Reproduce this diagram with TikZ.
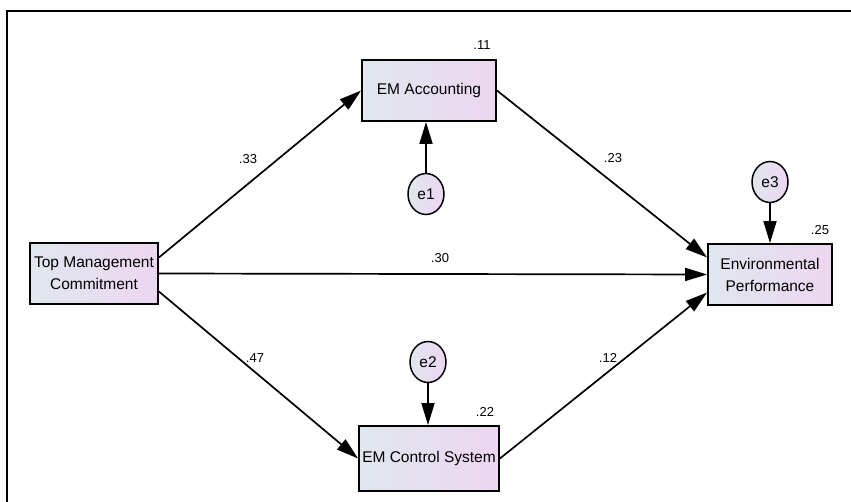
\documentclass[tikz,border=0pt]{standalone}
\usepackage{fontspec}
\setmainfont{Liberation Sans}
\usetikzlibrary{arrows.meta,shapes.geometric}
\definecolor{boxl}{RGB}{224,231,238}
\definecolor{boxr}{RGB}{237,214,241}

\begin{document}
\begin{tikzpicture}[x=1pt,y=-1pt]
    \tikzstyle{every node}+=[inner sep=0pt, font=\fontsize{15.5}{22}\selectfont]
    \tikzstyle{obs}=[draw, line width=1.8pt, left color=boxl, right color=boxr, align=center, minimum height=61pt]
    \tikzstyle{err}=[draw, ellipse, line width=1.5pt, left color=boxl, right color=boxr, minimum width=36pt, minimum height=41pt]
    \tikzstyle{path}=[line width=1.7pt, -{Triangle[length=22pt,width=13pt]}]
    \tikzstyle{coef}=[font=\fontsize{13}{15}\selectfont]
    \useasboundingbox (0,0) rectangle (851,502);
    \draw [line width=2pt] (7,502) -- (7,11) -- (851,11);
    % variables
    \node [obs, minimum width=128pt] (tmc) at (94,273.5) {Top Management\\Commitment};
    \node [obs, minimum width=134pt] (ema) at (429,90.5) {EM Accounting};
    \node [obs, minimum width=140pt, minimum height=65pt] (emc) at (429,458.5) {EM Control System};
    \node [obs, minimum width=124pt] (ep) at (770,274.5) {Environmental\\Performance};
    \node [err] (e1) at (426,194) {e1};
    \node [err] (e2) at (428,362) {e2};
    \node [err] (e3) at (770,182) {e3};
    % paths
    \draw [path] ([yshift=16pt]tmc.east) -- (ema.west);
    \draw [path] ([yshift=-18pt]tmc.east) -- (emc.west);
    \draw [path] (tmc.east) -- (ep.west);
    \draw [path] (ema.east) -- ([yshift=17pt]ep.west);
    \draw [path] (emc.east) -- ([yshift=-18pt]ep.west);
    \draw [path] (e1.north) -- (e1.north |- ema.south);
    \draw [path] (e2.south) -- (e2.south |- emc.north);
    \draw [path] (e3.south) -- (e3.south |- ep.north);
    % estimates
    \node [coef] (r1) at (482,45) {.11};
    \node [coef] (r2) at (485,412) {.22};
    \node [coef] (r3) at (820,230) {.25};
    \node [coef] (b1) at (248,159) {.33};
    \node [coef] (b2) at (613,158) {.23};
    \node [coef] (b3) at (440,258) {.30};
    \node [coef] (b4) at (255,358) {.47};
    \node [coef] (b5) at (608,358) {.12};
\end{tikzpicture}
\end{document}
